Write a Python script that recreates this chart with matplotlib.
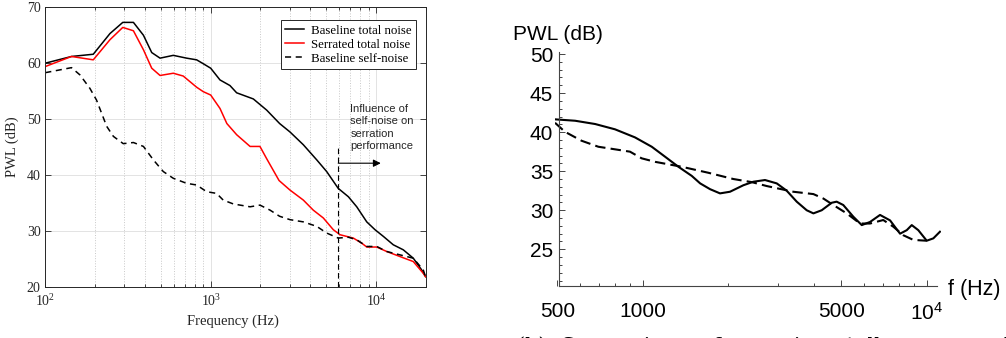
import matplotlib
matplotlib.use('Agg')
import matplotlib.pyplot as plt
from matplotlib.ticker import FixedLocator, FixedFormatter, NullFormatter

# --- left: measured far-field spectra ---
base_freq = [100, 144, 195, 246, 294, 341, 392, 440, 494, 594, 715, 822, 902, 1000,
             1138, 1307, 1435, 1810, 2180, 2610, 3013, 3631, 4375, 5026, 5900, 6797,
             7636, 8778, 9846, 11063, 12700, 14600, 16780, 18860, 19900]
base_pwl = [60.0, 61.2, 61.6, 65.3, 67.3, 67.3, 65.0, 61.9, 60.9, 61.4, 60.9, 60.6, 59.9, 59.1,
            57.0, 56.0, 54.7, 53.6, 51.6, 49.2, 47.7, 45.4, 42.7, 40.6, 37.6, 36.1,
            34.3, 31.6, 30.2, 29.0, 27.5, 26.6, 25.1, 23.0, 21.8]

serr_freq = [100, 144, 195, 246, 294, 341, 392, 440, 494, 594, 682, 822, 902, 1000,
             1138, 1252, 1435, 1730, 1985, 2180, 2590, 3013, 3631, 4170, 4795, 5510,
             6050, 7280, 8180, 8778, 10090, 11590, 13930, 16780, 19280, 19900]
serr_pwl = [59.4, 61.2, 60.6, 64.2, 66.4, 65.8, 62.4, 59.1, 57.8, 58.2, 57.7, 55.7, 54.9, 54.3,
            51.9, 49.2, 47.2, 45.1, 45.1, 42.9, 39.0, 37.3, 35.5, 33.7, 32.3, 30.2,
            29.3, 28.7, 27.8, 27.1, 27.1, 26.3, 25.4, 24.5, 22.4, 21.8]

self_freq = [100, 144, 162, 186, 204, 235, 258, 296, 341, 392, 450, 517, 594, 715, 822,
             945, 1085, 1190, 1373, 1730, 1985, 2285, 2610, 3013, 3631, 4375, 5026,
             5900, 6797, 7636, 8778, 10090, 11590, 13930, 16780, 19280, 19900]
self_pwl = [58.3, 59.2, 57.9, 55.5, 53.4, 48.7, 46.9, 45.6, 45.8, 45.1, 42.7, 40.6, 39.4, 38.5, 38.2,
            37.0, 36.7, 35.5, 34.8, 34.3, 34.6, 33.7, 32.6, 32.0, 31.6, 30.8, 29.6,
            28.7, 28.85, 28.4, 27.2, 27.2, 26.3, 25.7, 25.1, 23.0, 21.8]

legend_labels = ['Baseline total noise', 'Serrated total noise', 'Baseline self-noise']
cutoff_freq = 5900
cutoff_top = 45.4
arrow_end_freq = 10670
arrow_level = 42.1
note_text = 'Influence of\nself-noise on\nserration\nperformance'

# --- right: solid vs dashed PWL curves ---
solid_freq = [491, 578, 680, 799, 939, 1076, 1199, 1335, 1488, 1593, 1726, 1871, 2029,
              2261, 2451, 2695, 2964, 3214, 3485, 3779, 3990, 4268, 4629, 4817, 5084,
              5516, 5905, 6315, 6848, 7430, 8056, 8505, 8857, 9340, 10000, 10550, 11130]
solid_pwl = [41.64, 41.46, 41.04, 40.36, 39.33, 38.13, 36.85, 35.57, 34.4, 33.44, 32.7, 32.16, 32.37,
             33.2, 33.65, 33.87, 33.44, 32.5, 31.1, 30.0, 29.6, 30.0, 30.96, 31.1, 30.67,
             29.17, 28.1, 28.5, 29.4, 28.7, 27.0, 27.45, 28.1, 27.45, 26.1, 26.4, 27.25]

dashed_freq = [491, 532, 609, 698, 799, 902, 991, 1105, 1371, 1702, 2084, 2422, 2733,
               3389, 3990, 4325, 4690, 5226, 5823, 6315, 7030, 7622, 8272, 8975, 10000]
dashed_pwl = [41.2, 40.05, 38.9, 38.13, 37.8, 37.5, 36.65, 36.2, 35.57, 34.8, 34.0, 33.6, 33.1,
              32.37, 32.07, 31.5, 30.67, 29.6, 28.3, 28.3, 28.75, 27.9, 26.8, 26.2, 26.1]

right_xticks = [500, 1000, 5000, 10000]
right_xticklabels = ['500', '1000', '5000', r'$\mathdefault{10^{4}}$']
right_xminor = [600, 700, 800, 900, 2000, 3000, 4000, 6000, 7000, 8000, 9000]
right_yticks = [25, 30, 35, 40, 45, 50]
right_yminor = list(range(21, 50))

W, H = 1006, 338
fig = plt.figure(figsize=(W / 100, H / 100), dpi=100)
dark = '#262626'
serif = 'Liberation Serif'
sans = 'Liberation Sans'

# left panel
ax1 = fig.add_axes([45.3 / W, (H - 286.7) / H, (425.9 - 45.3) / W, (286.7 - 7.3) / H])
ax1.set_xscale('log')
ax1.plot(base_freq, base_pwl, color='k', lw=1.1, label=legend_labels[0])
ax1.plot(serr_freq, serr_pwl, color='#ff0000', lw=1.1, label=legend_labels[1])
ax1.plot(self_freq, self_pwl, color='k', lw=1.1, dashes=(4, 3), label=legend_labels[2])
ax1.set_xlim(100, 20000)
ax1.set_ylim(20, 70)
ax1.set_yticks(range(20, 71, 10))
ax1.grid(which='major', color='#dedede', lw=0.6)
ax1.grid(which='minor', axis='x', color='#c8c8c8', ls=':', lw=0.7)
ax1.set_axisbelow(True)
ax1.tick_params(which='both', direction='in', top=True, right=True, color=dark,
                labelcolor=dark, labelsize=10, width=0.6, labelfontfamily=serif)
ax1.tick_params(which='major', length=4)
ax1.tick_params(which='minor', length=2.5)
ax1.tick_params(axis='y', pad=3.3)
ax1.tick_params(axis='x', pad=4.5)
for s in ax1.spines.values():
    s.set_color(dark)
    s.set_linewidth(0.7)
ax1.set_xlabel('Frequency (Hz)', family=serif, size=10.5, color=dark)
ax1.set_ylabel('PWL (dB)', family=serif, size=10.5, color=dark)
ax1.xaxis.set_label_coords(0.493, -0.101)
ax1.yaxis.set_label_coords(-0.0704, 0.5)

leg = ax1.legend(loc='upper right', bbox_to_anchor=(1 - 9.9 / 380.6, 1 - 12.7 / 279.4),
                 borderaxespad=0, fancybox=False, framealpha=1, edgecolor=dark,
                 prop={'family': serif, 'size': 9.3}, handlelength=1.5,
                 handletextpad=0.5, borderpad=0.35, labelspacing=0.15)
leg.get_frame().set_linewidth(0.7)

ax1.plot([cutoff_freq, cutoff_freq], [20, cutoff_top], color='k', lw=0.8, dashes=(5, 3))
ax1.annotate('', xy=(arrow_end_freq, arrow_level), xytext=(cutoff_freq, arrow_level),
             arrowprops=dict(arrowstyle='-|>', color='k', lw=0.8, mutation_scale=11,
                             shrinkA=0, shrinkB=0))
ax1.text(7000, 52.7, note_text, family=sans, size=8, color=dark, va='top', ha='left',
         linespacing=1.3)

# right panel
ax2 = fig.add_axes([555.0 / W, (H - 285.7) / H, 385.7 / W, 234 / H])
ax2.set_xscale('log')
ax2.plot(solid_freq, solid_pwl, color='k', lw=1.5)
ax2.plot(dashed_freq, dashed_pwl, color='k', lw=1.5, dashes=(5, 2.5))
ax2.set_xlim(491, 11200)
ax2.set_ylim(20.34, 50.3)
ax2.spines[['top', 'right']].set_visible(False)
ax2.spines['left'].set_position(('data', 508))
ax2.spines['left'].set_bounds(20.34, 50.3)
ax2.spines['bottom'].set_bounds(508, 10840)
for s in ax2.spines.values():
    s.set_color('#444444')
    s.set_linewidth(0.8)
ax2.xaxis.set_major_locator(FixedLocator(right_xticks))
ax2.xaxis.set_major_formatter(FixedFormatter(right_xticklabels))
ax2.xaxis.set_minor_locator(FixedLocator(right_xminor))
ax2.xaxis.set_minor_formatter(NullFormatter())
ax2.yaxis.set_major_locator(FixedLocator(right_yticks))
ax2.yaxis.set_minor_locator(FixedLocator(right_yminor))
ax2.tick_params(which='both', direction='in', color='#444444', labelsize=15,
                width=0.7, labelfontfamily=sans)
ax2.tick_params(which='major', length=4)
ax2.tick_params(which='minor', length=2.5)
ax2.tick_params(axis='x', pad=11.5)
ax2.tick_params(axis='y', pad=4.3)
fig.text(513 / W, 1 - 34 / H, 'PWL (dB)', family=sans, size=15, va='center', ha='left')
fig.text(948 / W, 1 - 290 / H, 'f (Hz)', family=sans, size=15.5, va='center', ha='left')

# sub-figure caption running off the bottom edge
fig.text(517 / W, (H - 351.5) / H, '(b)  Comparison  of  experimentally  measured',
         family='DejaVu Serif', size=15, va='baseline', ha='left')

fig.savefig('out.png', dpi=100)
